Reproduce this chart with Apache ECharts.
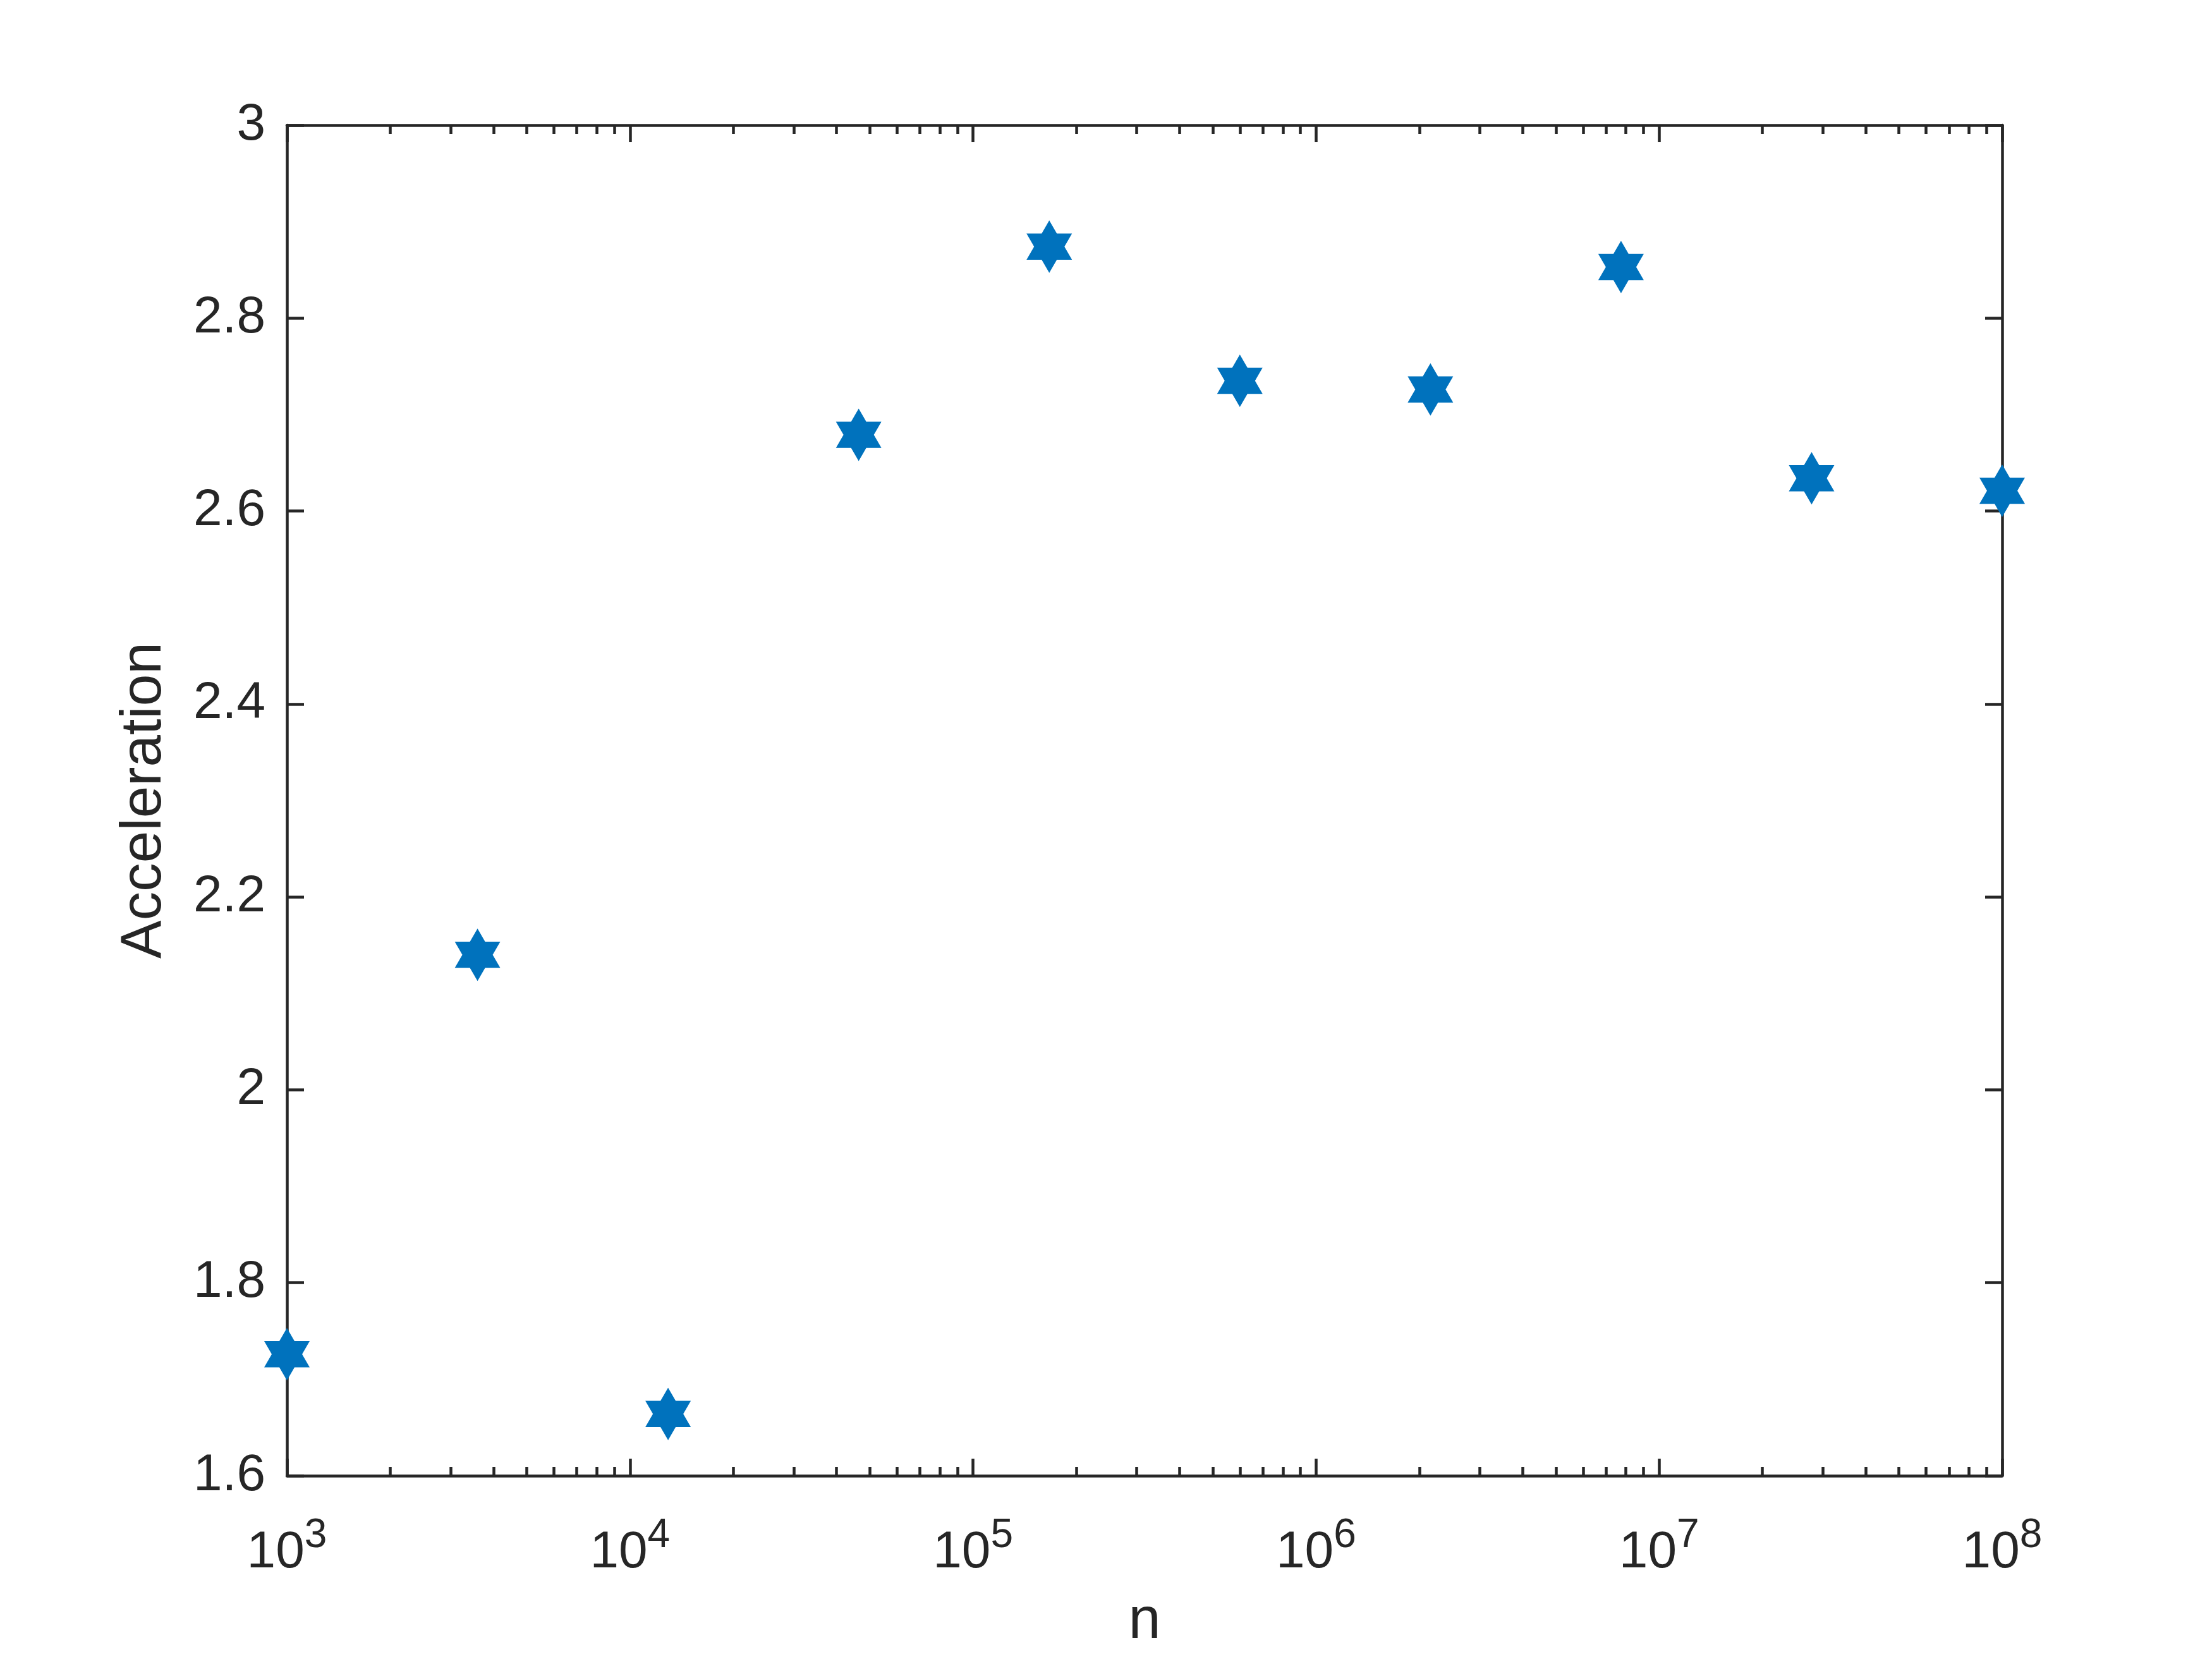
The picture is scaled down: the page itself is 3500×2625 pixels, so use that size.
<!DOCTYPE html>
<html>
<head>
<meta charset="utf-8">
<script src="https://cdn.jsdelivr.net/npm/echarts@6/dist/echarts.min.js"></script>
<style>
  html, body { margin: 0; padding: 0; background: #ffffff; }
  #chart { width: 3500px; height: 2625px; }
</style>
</head>
<body>
<div id="chart"></div>
<script>
// ---- data ----
const nValues = [1000, 3594, 12915, 46416, 166810, 599484, 2154435, 7742637, 27825594, 100000000];
const acceleration = [1.726, 2.140, 1.664, 2.679, 2.874, 2.735, 2.726, 2.853, 2.634, 2.621];
const xMajorTicks = [1e3, 1e4, 1e5, 1e6, 1e7, 1e8];
const xMinorMultipliers = [2, 3, 4, 5, 6, 7, 8, 9];
const yTicks = [1.6, 1.8, 2, 2.2, 2.4, 2.6, 2.8, 3];
const xName = 'n';
const yName = 'Acceleration';

const xMinorTicks = [];
for (let d = 0; d < xMajorTicks.length - 1; d++) {
  for (const m of xMinorMultipliers) xMinorTicks.push(m * xMajorTicks[d]);
}

const FONT = 'Liberation Sans, Arial, Helvetica, sans-serif';
const INK = '#262626';
const LW = 4.5;
const hexagram = 'path://M0,-1 L0.288675,-0.5 L0.866025,-0.5 L0.57735,0 L0.866025,0.5 L0.288675,0.5 L0,1 L-0.288675,0.5 L-0.866025,0.5 L-0.57735,0 L-0.866025,-0.5 L-0.288675,-0.5 Z';

const chart = echarts.init(document.getElementById('chart'), null, { renderer: 'canvas' });

function xAxisDef(position, major, withLabels) {
  return {
    type: 'log',
    logBase: 10,
    position: position,
    min: xMajorTicks[0],
    max: xMajorTicks[xMajorTicks.length - 1],
    name: withLabels ? xName : '',
    nameLocation: 'middle',
    nameGap: 186,
    nameTextStyle: { fontFamily: FONT, fontSize: 92, color: INK },
    axisLine: { show: major, onZero: false, lineStyle: { color: INK, width: LW } },
    axisTick: {
      show: true,
      inside: true,
      length: major ? 27 : 14,
      customValues: major ? xMajorTicks : xMinorTicks,
      lineStyle: { color: INK, width: LW }
    },
    axisLabel: withLabels ? {
      show: true,
      margin: 63,
      customValues: xMajorTicks,
      formatter: function (v) {
        return '{b|10}{s|' + Math.round(Math.log10(v)) + '}';
      },
      rich: {
        b: { fontFamily: FONT, fontSize: 82, color: INK, lineHeight: 100, verticalAlign: 'bottom' },
        s: { fontFamily: FONT, fontSize: 64, color: INK, lineHeight: 30, verticalAlign: 'top' }
      }
    } : { show: false },
    splitLine: { show: false },
    minorTick: { show: false },
    minorSplitLine: { show: false }
  };
}

function yAxisDef(position, withLabels) {
  return {
    type: 'value',
    position: position,
    min: yTicks[0],
    max: yTicks[yTicks.length - 1],
    interval: 0.2,
    name: withLabels ? yName : '',
    nameLocation: 'middle',
    nameGap: 180,
    nameRotate: 90,
    nameTextStyle: { fontFamily: FONT, fontSize: 91, color: INK },
    axisLine: { show: true, onZero: false, lineStyle: { color: INK, width: LW } },
    axisTick: { show: true, inside: true, length: 27, lineStyle: { color: INK, width: LW } },
    axisLabel: withLabels ? {
      show: true,
      margin: 34,
      fontFamily: FONT,
      fontSize: 82,
      color: INK,
      formatter: function (v) { return String(Math.round(v * 10) / 10); }
    } : { show: false },
    splitLine: { show: false }
  };
}

const option = {
  backgroundColor: '#ffffff',
  animation: false,
  grid: { left: 454, right: 332, top: 198, bottom: 290, containLabel: false },
  xAxis: [
    xAxisDef('bottom', true, true),
    xAxisDef('bottom', false, false),
    xAxisDef('top', true, false),
    xAxisDef('top', false, false)
  ],
  yAxis: [
    yAxisDef('left', true),
    yAxisDef('right', false)
  ],
  series: [{
    type: 'scatter',
    xAxisIndex: 0,
    yAxisIndex: 0,
    data: nValues.map((n, i) => [n, acceleration[i]]),
    symbol: hexagram,
    symbolSize: [72, 83],
    clip: false,
    itemStyle: { color: '#0072BD', opacity: 1 },
    z: 10
  }]
};

chart.setOption(option);
</script>
</body>
</html>
